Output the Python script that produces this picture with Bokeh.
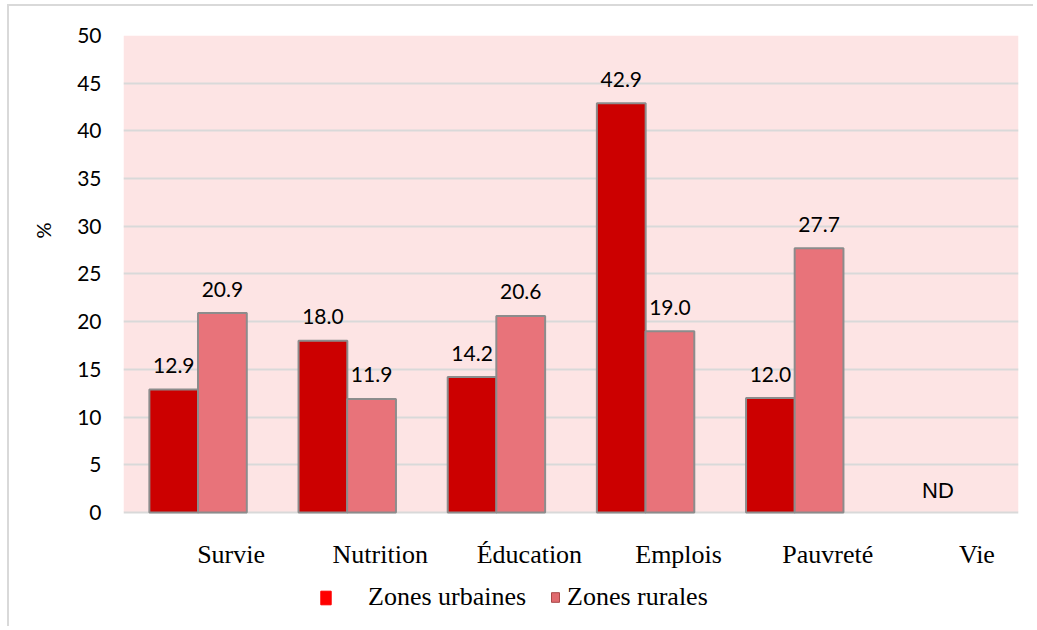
from bokeh.plotting import figure
from bokeh.models import (ColumnDataSource, FactorRange, Range1d, FixedTicker,
                          BoxAnnotation, Title, Legend, LegendItem)
from bokeh.transform import dodge
from bokeh.core.properties import value
from bokeh.embed import file_html
from bokeh.resources import INLINE

# ---- data ----
categories = ["Survie", "Nutrition", "Éducation", "Emplois", "Pauvreté", "Vie"]
urbaines = [12.9, 18.0, 14.2, 42.9, 12.0, None]
rurales = [20.9, 11.9, 20.6, 19.0, 27.7, None]
missing_label = "ND"
y_ticks = [0, 5, 10, 15, 20, 25, 30, 35, 40, 45, 50]
y_label = "%"
series_names = ["Zones urbaines", "Zones rurales"]

URB = "#CC0000"
RUR = "#E8737A"
NUM_FONT = value("Lato")
CAT_FONT = value("Liberation Serif")


def clean(vals):
    return [float("nan") if v is None else v for v in vals]


src = ColumnDataSource(dict(cat=categories, urb=clean(urbaines), rur=clean(rurales)))

p = figure(x_range=FactorRange(*categories), y_range=Range1d(-12.16, 50),
           width=1026, height=622, output_backend="svg", toolbar_location=None,
           x_axis_location=None, min_border_left=114, min_border_right=17,
           min_border_top=29, min_border_bottom=0)
p.outline_line_color = None
p.background_fill_color = "white"
p.border_fill_color = "white"

# pink plot-area background (0..50)
p.add_layout(BoxAnnotation(bottom=0, top=50, fill_color="#FDE4E4", fill_alpha=1,
                           line_color=None, level="image"))

ticker = FixedTicker(ticks=y_ticks)
p.yaxis.ticker = ticker
p.ygrid.ticker = ticker
p.xgrid.visible = False
p.ygrid.grid_line_color = "#D9D9D9"
p.ygrid.grid_line_width = 2
p.yaxis.axis_line_color = None
p.yaxis.major_tick_line_color = None
p.yaxis.minor_tick_line_color = None
p.yaxis.major_tick_out = 0
p.yaxis.major_label_standoff = 22
p.yaxis.major_label_text_font = "Lato"
p.yaxis.major_label_text_font_size = "21px"
p.yaxis.major_label_text_color = "black"

bw = 0.327
r_urb = p.vbar(x=dodge("cat", -0.163, range=p.x_range), top="urb", width=bw, source=src,
               fill_color=URB, line_color="#8C8C8C", line_width=2)
r_rur = p.vbar(x=dodge("cat", 0.163, range=p.x_range), top="rur", width=bw, source=src,
               fill_color=RUR, line_color="#8C8C8C", line_width=2)

# value labels
for vals, off in ((urbaines, -0.163), (rurales, 0.163)):
    cs = [c for c, v in zip(categories, vals) if v is not None]
    ys = [v for v in vals if v is not None]
    s = ColumnDataSource(dict(cat=cs, y=ys, t=[f"{v:.1f}" for v in ys]))
    p.text(x=dodge("cat", off, range=p.x_range), y="y", text="t", source=s,
           text_align="center", text_baseline="alphabetic", y_offset=-24,
           text_font=NUM_FONT, text_font_size="21px", text_color="black")

# ND label
nd_cats = [c for c, u, r in zip(categories, urbaines, rurales) if u is None and r is None]
p.text(x=nd_cats, y=[0] * len(nd_cats), text=[missing_label] * len(nd_cats),
       text_align="center", text_baseline="alphabetic", y_offset=-22, x_offset=-6,
       text_font=value("Liberation Sans"), text_font_size="22px", text_color="black")

# category labels
p.text(x=categories, y=[0] * len(categories), text=categories,
       text_align="center", text_baseline="alphabetic", x_offset=33, y_offset=42,
       text_font=CAT_FONT, text_font_size="26px", text_color="black")

# y label as a left-side title
p.add_layout(Title(text=y_label, align="right", offset=187, standoff=36,
                   vertical_align="top",
                   text_font="Lato", text_font_size="20px", text_font_style="normal",
                   text_color="black"), "left")

# legend swatches (renderers with a missing value, used only as legend keys)
key_src = ColumnDataSource(dict(cat=nd_cats, top=[float("nan")] * len(nd_cats)))
key_u = p.vbar(x="cat", top="top", width=bw, source=key_src,
               fill_color="#FF0000", line_color="#FF0000", line_width=1)
key_r = p.vbar(x="cat", top="top", width=bw, source=key_src,
               fill_color="#E06A6E", line_color="#A84848", line_width=1)


def make_legend(name, rend, loc, gw, gh, standoff):
    leg = Legend(items=[LegendItem(label=name, renderers=[rend])], location=loc,
                 orientation="horizontal", glyph_width=gw, glyph_height=gh,
                 label_standoff=standoff, padding=0, margin=0,
                 border_line_color=None, background_fill_alpha=0)
    leg.label_text_font = "Liberation Serif"
    leg.label_text_font_size = "26px"
    leg.label_text_color = "black"
    return leg


p.add_layout(make_legend(series_names[0], key_u, (196, 16), 13, 17, 36))
p.add_layout(make_legend(series_names[1], key_r, (427, 16), 10, 12, 7))

p.styles = {"margin-left": "7px", "margin-top": "4px",
            "border-left": "2px solid #D9D9D9", "border-top": "2px solid #D9D9D9"}

open("out.html", "w").write(file_html(p, INLINE))
